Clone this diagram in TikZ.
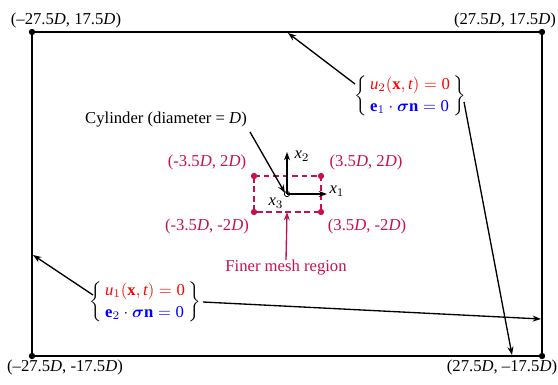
\documentclass[tikz,border=0pt]{standalone}
\usepackage{amsmath}
\usepackage{fontspec}
\setmainfont{Liberation Serif}
\usetikzlibrary{arrows.meta}
\definecolor{mesh}{RGB}{200,16,80}
\newcommand{\DD}{\textit{D}}
\begin{document}
\begin{tikzpicture}[x=0.6pt,y=-0.6pt,font=\fontsize{10}{12}\selectfont,
  corner/.style={circle,fill=black,inner sep=0pt,minimum size=3.8pt},
  meshdot/.style={circle,fill=mesh,inner sep=0pt,minimum size=3.8pt},
  arr/.style={-{Stealth[length=5pt,width=3.6pt]},line width=0.8pt},
  lbl/.style={inner sep=0pt},
  meshlbl/.style={inner sep=0pt,text=mesh},
  bc/.style={inner sep=0pt}]
\path[use as bounding box] (0,0) rectangle (558,384);
% domain
\coordinate (A) at (32,32);
\coordinate (B) at (542,32);
\coordinate (C) at (542,356);
\coordinate (Dd) at (32,356);
\draw[line width=1.1pt] (A) -- (B) -- (C) -- (Dd) -- cycle;
\foreach \p in {A,B,C,Dd} \node[corner] at (\p) {};
\node[lbl] (lA) at (66,20) {(--27.5\DD, 17.5\DD)};
\node[lbl] (lB) at (505,20) {(27.5\DD, 17.5\DD)};
\node[lbl] (lD) at (65,367) {(--27.5\DD, -17.5\DD)};
\node[lbl] (lC) at (502,367) {(27.5\DD, --17.5\DD)};
% mesh region
\coordinate (m1) at (254,176);
\coordinate (m2) at (321,176);
\coordinate (m3) at (321,212);
\coordinate (m4) at (254,212);
\draw[mesh,line width=0.85pt,dash pattern=on 3.5pt off 2.2pt] (m1) -- (m2) -- (m3) -- (m4) -- cycle;
\foreach \p in {m1,m2,m3,m4} \node[meshdot] at (\p) {};
\node[meshlbl] (lm1) at (207,162) {(-3.5\DD, 2\DD)};
\node[meshlbl] (lm2) at (366,162) {(3.5\DD, 2\DD)};
\node[meshlbl] (lm4) at (207,226) {(-3.5\DD, -2\DD)};
\node[meshlbl] (lm3) at (367,226) {(3.5\DD, -2\DD)};
\node[meshlbl] (fm) at (286,268) {Finer mesh region};
\coordinate (mb) at (287,212);
\draw[arr,mesh] (fm.north) -- (mb);
% axes
\coordinate (O) at (287,194);
\coordinate (X1) at (327,194);
\coordinate (X2) at (287,152);
\draw[arr] (O) -- (X1);
\draw[arr] (O) -- (X2);
\draw[line width=0.5pt] (O) circle (1.6pt);
\node[lbl] (lx1) at (337,191) {$\mathit{x}_1$};
\node[lbl] (lx2) at (302,156) {$\mathit{x}_2$};
\node[lbl] (lx3) at (276,203) {$\mathit{x}_3$};
% cylinder
\node[lbl] (cyl) at (166,120) {Cylinder (diameter = \DD)};
\coordinate (cs) at (250,132);
\coordinate (ce) at (285,193);
\draw[arr] (cs) -- (ce);
% boundary conditions
\node[bc] (bc2) at (410,96) {$\setlength{\arraycolsep}{2pt}\renewcommand{\arraystretch}{1.1}\left\{\begin{array}{l}\color{red}\mathit{u}_2(\mathbf{x},\mathit{t})=\mathrm{0}\\ \color{blue}\mathbf{e}_1\cdot\boldsymbol{\sigma}\mathbf{n}=\mathrm{0}\end{array}\right\}$};
\node[bc] (bc1) at (145,302) {$\setlength{\arraycolsep}{2pt}\renewcommand{\arraystretch}{1.1}\left\{\begin{array}{l}\color{red}\mathit{u}_1(\mathbf{x},\mathit{t})=\mathrm{0}\\ \color{blue}\mathbf{e}_2\cdot\boldsymbol{\sigma}\mathbf{n}=\mathrm{0}\end{array}\right\}$};
\coordinate (s2a) at (355,84);
\coordinate (t2a) at (288,33);
\coordinate (s2b) at (464,102);
\coordinate (t2b) at (512,355);
\coordinate (s1a) at (93,295);
\coordinate (t1a) at (33,255);
\coordinate (s1b) at (203,302);
\coordinate (t1b) at (541,319);
\draw[arr] (s2a) -- (t2a);
\draw[arr] (s2b) -- (t2b);
\draw[arr] (s1a) -- (t1a);
\draw[arr] (s1b) -- (t1b);
\end{tikzpicture}
\end{document}
